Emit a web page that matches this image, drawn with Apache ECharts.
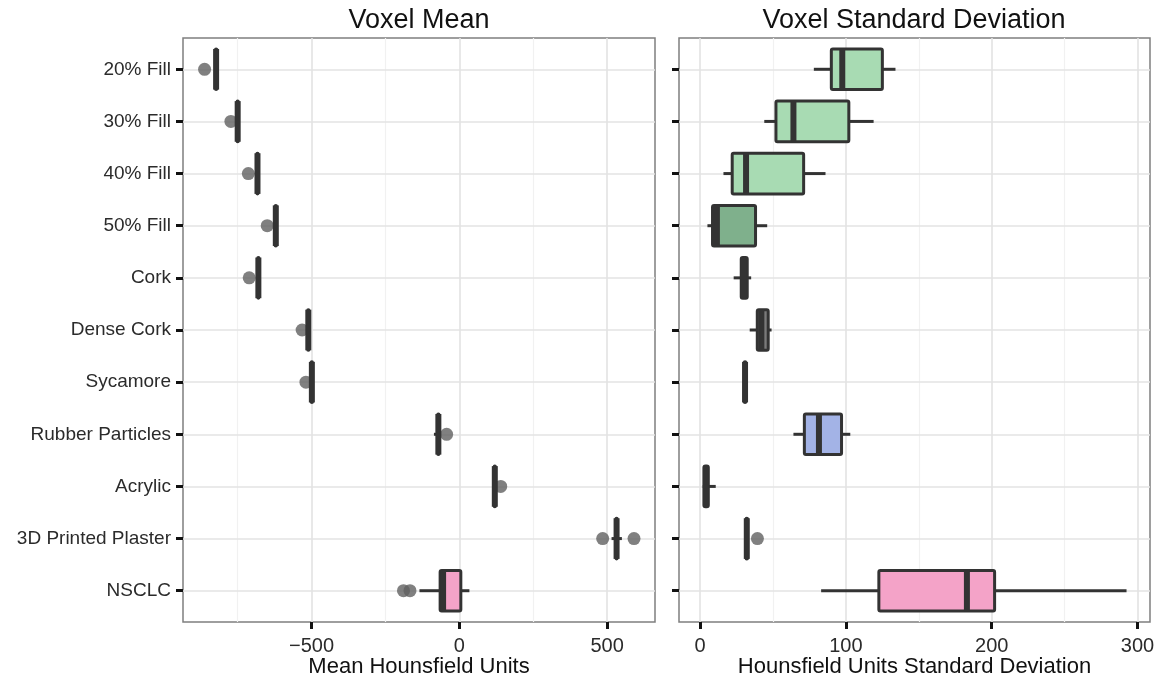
<!DOCTYPE html>
<html>
<head>
<meta charset="utf-8">
<script src="https://cdn.jsdelivr.net/npm/echarts@6/dist/echarts.min.js"></script>
<style>
  html, body { margin: 0; padding: 0; background: #fff; }
  #chart { width: 1168px; height: 684px; }
</style>
</head>
<body>
<div id="chart"></div>
<script type="application/javascript">
const categories = ['20% Fill', '30% Fill', '40% Fill', '50% Fill', 'Cork', 'Dense Cork',
  'Sycamore', 'Rubber Particles', 'Acrylic', '3D Printed Plaster', 'NSCLC'];

// [min, q1, median, q3, max] per category
const meanStats = [
  [-825, -825, -823, -821, -821],
  [-752, -752, -750, -748, -748],
  [-685, -685, -683, -681, -681],
  [-623, -623, -621, -619, -619],
  [-682, -682, -680, -678, -678],
  [-513, -513, -511, -509, -509],
  [-501, -501, -499, -497, -497],
  [-86, -73, -71, -69, -67],
  [118, 118, 120, 122, 122],
  [515, 530, 532, 534, 550],
  [-135, -65, -55, 5, 34]
];
// [value, category index]
const meanOutliers = [[-862, 0], [-773, 1], [-714, 2], [-650, 3], [-711, 4], [-532, 5],
  [-519, 6], [-43, 7], [140, 8], [485, 9], [591, 9], [-189, 10], [-167, 10]];

const sdStats = [
  [78, 90, 97.5, 125, 134],
  [44, 52, 64, 102, 119],
  [16, 22, 31.5, 71, 86],
  [5, 8.5, 11.5, 38, 46],
  [23, 28.2, 30, 32.3, 35],
  [34, 39.2, 42, 46.7, 49],
  [30.3, 30.3, 30.8, 31.3, 31.3],
  [64, 71.5, 81.5, 97, 103],
  [1.8, 2.6, 4, 5.6, 10.7],
  [31.5, 31.5, 32, 32.5, 32.5],
  [83, 122.6, 183, 202, 292.5]
];
const sdOutliers = [[39.3, 9]];

const boxFills = ['#a8dbb3', '#a8dbb3', '#a8dbb3', '#7fb08c', '#666666', '#7a7a7a',
  '#666666', '#a3b3e6', '#666666', '#666666', '#f4a3c8'];

const meanTicks = [-500, 0, 500];
const meanMinor = [-750, -250, 250];
const sdTicks = [0, 100, 200, 300];
const sdMinor = [50, 150, 250];
const catTicks = categories.map((c, i) => i);

const FONT = 'Liberation Sans';
const DARK = '#333333';

function boxItem(params, api) {
  const cat = api.value(0);
  const y = api.coord([0, cat])[1];
  const top = api.coord([0, cat - 0.39])[1];
  const bottom = api.coord([0, cat + 0.39])[1];
  const x = i => api.coord([api.value(i), cat])[0];
  const h = Math.abs(bottom - top);
  const y0 = Math.min(top, bottom);
  return {
    type: 'group',
    children: [
      { type: 'line', shape: { x1: x(1), y1: y, x2: x(2), y2: y }, style: { stroke: DARK, lineWidth: 3 } },
      { type: 'line', shape: { x1: x(4), y1: y, x2: x(5), y2: y }, style: { stroke: DARK, lineWidth: 3 } },
      { type: 'rect', shape: { x: x(2), y: y0, width: x(4) - x(2), height: h, r: 1.5 },
        style: { fill: boxFills[cat], stroke: DARK, lineWidth: 3 } },
      { type: 'line', shape: { x1: x(3), y1: y0, x2: x(3), y2: y0 + h },
        style: { stroke: DARK, lineWidth: 6 } }
    ]
  };
}

function gridLines(idx, major, minor) {
  const line = (color, width) => ({ color, width, type: 'solid' });
  return {
    type: 'line', xAxisIndex: idx, yAxisIndex: idx, data: [], silent: true,
    markLine: {
      silent: true, symbol: ['none', 'none'], label: { show: false }, animation: false, z: 0,
      data: [
        ...minor.map(v => ({ xAxis: v, lineStyle: line('#f1f1f1', 1.2) })),
        ...major.map(v => ({ xAxis: v, lineStyle: line('#e3e3e3', 1.6) })),
        ...catTicks.map(v => ({ yAxis: v, lineStyle: line('#e3e3e3', 1.6) }))
      ]
    }
  };
}

function xAxisFor(idx, min, max, ticks, name) {
  return {
    type: 'value', gridIndex: idx, min, max, position: 'bottom',
    axisLine: { show: false, onZero: false },
    splitLine: { show: false },
    axisTick: { show: true, customValues: ticks, length: 7, lineStyle: { color: '#111', width: 3 } },
    axisLabel: {
      customValues: ticks, margin: 14, fontFamily: FONT, fontSize: 20, color: '#2b2b2b',
      formatter: v => (v < 0 ? '\u2212' + Math.abs(v) : String(v))
    },
    name, nameLocation: 'middle', nameGap: 34, nameMoveOverlap: false,
    nameTextStyle: { fontFamily: FONT, fontSize: 22, color: '#111' }
  };
}

function yAxisFor(idx, showLabels) {
  return {
    type: 'value', gridIndex: idx, min: -0.6, max: 10.6, inverse: true, position: 'left',
    axisLine: { show: false, onZero: false },
    splitLine: { show: false },
    axisTick: { show: true, customValues: catTicks, length: 7, lineStyle: { color: '#111', width: 3 } },
    axisLabel: {
      show: showLabels, customValues: catTicks, margin: 12, fontFamily: FONT, fontSize: 19,
      color: '#2b2b2b', formatter: v => categories[v]
    }
  };
}

const chart = echarts.init(document.getElementById('chart'));
chart.setOption({
  animation: false,
  backgroundColor: '#ffffff',
  title: [
    { text: 'Voxel Mean', left: 414, top: 2, textAlign: 'center',
      textStyle: { fontFamily: FONT, fontSize: 27, fontWeight: 'normal', color: '#111' } },
    { text: 'Voxel Standard Deviation', left: 909, top: 2, textAlign: 'center',
      textStyle: { fontFamily: FONT, fontSize: 27, fontWeight: 'normal', color: '#111' } }
  ],
  grid: [
    { left: 183, right: 513, top: 38, bottom: 62, show: true, backgroundColor: '#fff',
      borderColor: '#7f7f7f', borderWidth: 1.5, outerBoundsMode: 'none' },
    { left: 679, right: 18, top: 38, bottom: 62, show: true, backgroundColor: '#fff',
      borderColor: '#7f7f7f', borderWidth: 1.5, outerBoundsMode: 'none' }
  ],
  xAxis: [
    xAxisFor(0, -935, 662, meanTicks, 'Mean Hounsfield Units'),
    xAxisFor(1, -14.5, 308.6, sdTicks, 'Hounsfield Units Standard Deviation')
  ],
  yAxis: [yAxisFor(0, true), yAxisFor(1, false)],
  series: [
    gridLines(0, meanTicks, meanMinor),
    gridLines(1, sdTicks, sdMinor),
    {
      type: 'scatter', xAxisIndex: 0, yAxisIndex: 0, z: 2, symbolSize: 13,
      itemStyle: { color: '#606060' }, data: meanOutliers
    },
    {
      type: 'scatter', xAxisIndex: 1, yAxisIndex: 1, z: 2, symbolSize: 13,
      itemStyle: { color: '#606060' }, data: sdOutliers
    },
    {
      type: 'custom', xAxisIndex: 0, yAxisIndex: 0, z: 3, renderItem: boxItem,
      encode: { x: [1, 2, 3, 4, 5], y: 0 },
      data: meanStats.map((s, i) => [i].concat(s))
    },
    {
      type: 'custom', xAxisIndex: 1, yAxisIndex: 1, z: 3, renderItem: boxItem,
      encode: { x: [1, 2, 3, 4, 5], y: 0 },
      data: sdStats.map((s, i) => [i].concat(s))
    }
  ]
});
</script>
</body>
</html>
